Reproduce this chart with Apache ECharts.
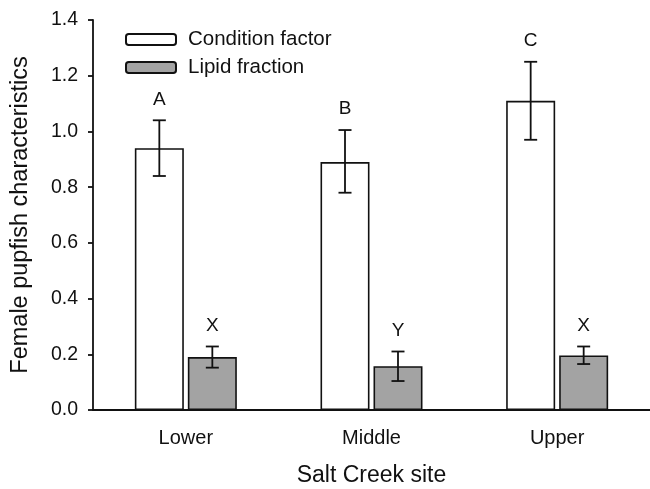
<!DOCTYPE html>
<html>
<head>
<meta charset="utf-8">
<script src="https://cdn.jsdelivr.net/npm/echarts@6/dist/echarts.min.js"></script>
<style>
html,body{margin:0;padding:0;background:#fff;}
#chart{width:650px;height:489px;}
</style>
</head>
<body>
<div id="chart"></div>
<script>
// ---- data ----
const categories = ['Lower', 'Middle', 'Upper'];
const seriesNames = ['Condition factor', 'Lipid fraction'];
const conditionMean = [0.94, 0.89, 1.11];
const conditionErrLow = [0.84, 0.78, 0.97];
const conditionErrHigh = [1.04, 1.005, 1.25];
const lipidMean = [0.19, 0.157, 0.196];
const lipidErrLow = [0.152, 0.104, 0.165];
const lipidErrHigh = [0.228, 0.21, 0.228];
const conditionLetters = ['A', 'B', 'C'];
const lipidLetters = ['X', 'Y', 'X'];
const yTicks = [0.0, 0.2, 0.4, 0.6, 0.8, 1.0, 1.2, 1.4];

// ---- styling ----
const FONT = 'Liberation Sans, Arial, sans-serif';
const BAR_W = 49;
const BAR_GAP_PX = 4;
const OFFSET = (BAR_W + BAR_GAP_PX) / 2;

function errRows(low, high, side, letters) {
  return categories.map((c, i) => [i, low[i], high[i], side, letters[i]]);
}

function renderErr(params, api) {
  const idx = api.value(0);
  const side = api.value(3);
  const pLow = api.coord([idx, api.value(1)]);
  const pHigh = api.coord([idx, api.value(2)]);
  const x = pLow[0] + side * OFFSET;
  const cap = 6.5;
  const st = {stroke: '#111', lineWidth: 1.8};
  return {
    type: 'group',
    children: [
      {type: 'line', shape: {x1: x, y1: pLow[1], x2: x, y2: pHigh[1]}, style: st},
      {type: 'line', shape: {x1: x - cap, y1: pLow[1], x2: x + cap, y2: pLow[1]}, style: st},
      {type: 'line', shape: {x1: x - cap, y1: pHigh[1], x2: x + cap, y2: pHigh[1]}, style: st},
      {type: 'text', style: {text: api.value(4), x: x, y: pHigh[1] - 21, align: 'center', verticalAlign: 'middle',
        font: '19px ' + FONT, fill: '#111'}}
    ]
  };
}

const chart = echarts.init(document.getElementById('chart'), null, {renderer: 'canvas'});
chart.setOption({
  animation: false,
  backgroundColor: '#fff',
  grid: {left: 93, right: 0, top: 20, bottom: 79, containLabel: false, outerBoundsMode: 'none'},
  legend: {
    data: seriesNames,
    orient: 'vertical',
    left: 125, top: 29,
    itemWidth: 50, itemHeight: 11, itemGap: 7,
    textStyle: {fontFamily: FONT, fontSize: 20.5, color: '#111', padding: [0, 0, 0, 7]},
    padding: 0
  },
  xAxis: {
    type: 'category',
    data: categories,
    name: 'Salt Creek site',
    nameLocation: 'middle',
    nameGap: 54,
    nameTextStyle: {fontFamily: FONT, fontSize: 23, color: '#111'},
    axisLine: {lineStyle: {color: '#111', width: 1.8}},
    axisTick: {alignWithLabel: true, length: 5, lineStyle: {color: '#111', width: 1.8}},
    axisLabel: {fontFamily: FONT, fontSize: 20, color: '#111', margin: 18}
  },
  yAxis: {
    type: 'value',
    min: yTicks[0], max: yTicks[yTicks.length - 1], interval: 0.2,
    name: 'Female pupfish characteristics',
    nameLocation: 'middle',
    nameGap: 60,
    nameTextStyle: {fontFamily: FONT, fontSize: 23.5, color: '#111'},
    splitLine: {show: false},
    axisLine: {show: true, lineStyle: {color: '#111', width: 1.8}},
    axisTick: {show: true, length: 5, lineStyle: {color: '#111', width: 1.8}},
    axisLabel: {fontFamily: FONT, fontSize: 19.5, color: '#111', margin: 15,
      formatter: v => v.toFixed(1)}
  },
  series: [
    {name: seriesNames[0], type: 'bar', data: conditionMean, barWidth: BAR_W, barGap: (BAR_GAP_PX / BAR_W * 100) + '%',
      itemStyle: {color: '#ffffff', borderColor: '#111', borderWidth: 1.6}},
    {name: seriesNames[1], type: 'bar', data: lipidMean, barWidth: BAR_W,
      itemStyle: {color: '#a3a3a3', borderColor: '#111', borderWidth: 1.6}},
    {type: 'custom', renderItem: renderErr, data: errRows(conditionErrLow, conditionErrHigh, -1, conditionLetters),
      encode: {x: 0, y: [1, 2]}, z: 5},
    {type: 'custom', renderItem: renderErr, data: errRows(lipidErrLow, lipidErrHigh, 1, lipidLetters),
      encode: {x: 0, y: [1, 2]}, z: 5}
  ]
});
</script>
</body>
</html>
